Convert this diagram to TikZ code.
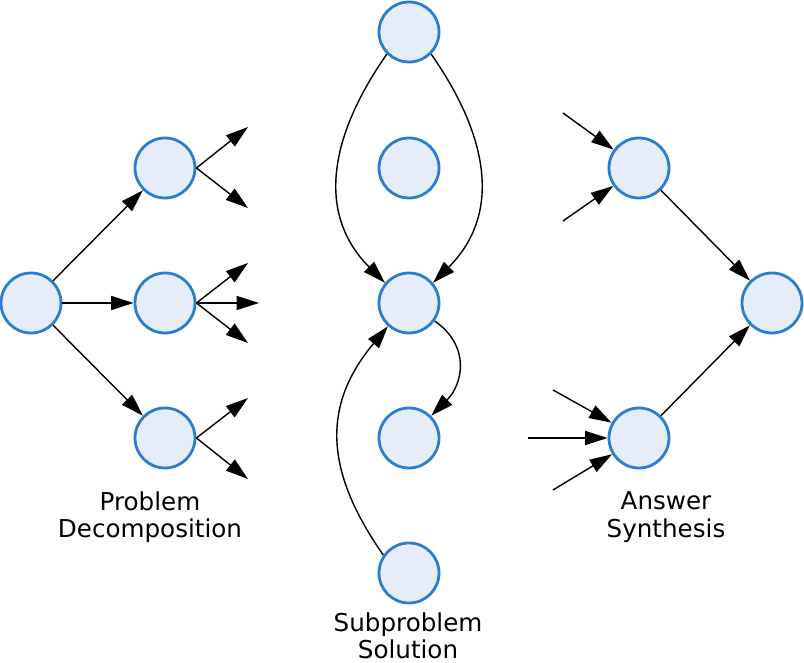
\documentclass[tikz,border=0pt]{standalone}
\usepackage{fontspec}
\setmainfont{DejaVu Sans}
\usetikzlibrary{arrows.meta}
\definecolor{nodefill}{RGB}{230,237,249}
\definecolor{nodeline}{RGB}{45,125,205}
\tikzset{
  state/.style={circle,draw=nodeline,fill=nodefill,line width=2pt,minimum size=1.5cm,inner sep=0pt},
  arr/.style={line width=1pt,-{Triangle[length=16pt,width=10pt]}},
  lbl/.style={align=center,font=\fontsize{17.5}{19.5}\selectfont}
}
\begin{document}
\begin{tikzpicture}[x=0.025cm,y=0.025cm]
    \useasboundingbox (0,0) rectangle (804,663);
    % problem decomposition
    \node[state] (root) at (31,360) {};
    \node[state] (a1) at (165,495) {};
    \node[state] (a2) at (165,360) {};
    \node[state] (a3) at (165,225) {};
    \coordinate (a1u) at (248,536);
    \coordinate (a1d) at (248,455);
    \coordinate (a2u) at (248,400);
    \coordinate (a2m) at (259,360);
    \coordinate (a2d) at (248,320);
    \coordinate (a3u) at (248,265);
    \coordinate (a3d) at (248,184);
    \draw[arr] (root) -- (a1);
    \draw[arr] (root) -- (a2);
    \draw[arr] (root) -- (a3);
    \draw[arr] (a1.east) -- (a1u);
    \draw[arr] (a1.east) -- (a1d);
    \draw[arr] (a2.east) -- (a2u);
    \draw[arr] (a2.east) -- (a2m);
    \draw[arr] (a2.east) -- (a2d);
    \draw[arr] (a3.east) -- (a3u);
    \draw[arr] (a3.east) -- (a3d);
    \node[lbl] (dec) at (150,146) {Problem\\Decomposition};
    % subproblem solution
    \node[state] (top) at (409,631) {};
    \node[state] (m2) at (409,495) {};
    \node[state] (m3) at (409,360) {};
    \node[state] (m4) at (409,225) {};
    \node[state] (bot) at (409,90) {};
    \draw[arr] (top.225) to[out=235,in=135,looseness=1.1] (m3.140);
    \draw[arr] (top.-45) to[out=-55,in=45,looseness=1.1] (m3.40);
    \draw[arr] (m3.-35) to[out=-35,in=45,looseness=1.2] (m4.45);
    \draw[arr] (bot.145) to[out=125,in=230,looseness=1.15] (m3.228);
    \node[lbl] (sol) at (408,27) {Subproblem\\Solution};
    % answer synthesis
    \node[state] (r1) at (639,495) {};
    \node[state] (r2) at (639,225) {};
    \node[state] (out) at (772,360) {};
    \coordinate (r1a) at (563,550);
    \coordinate (r1b) at (563,442);
    \coordinate (r2a) at (553,273);
    \coordinate (r2b) at (528,225);
    \coordinate (r2c) at (553,173);
    \draw[arr] (r1a) -- (r1);
    \draw[arr] (r1b) -- (r1);
    \draw[arr] (r2a) -- (r2);
    \draw[arr] (r2b) -- (r2);
    \draw[arr] (r2c) -- (r2);
    \draw[arr] (r1) -- (out);
    \draw[arr] (r2) -- (out);
    \node[lbl] (syn) at (666,146) {Answer\\Synthesis};
  \end{tikzpicture}
\end{document}
